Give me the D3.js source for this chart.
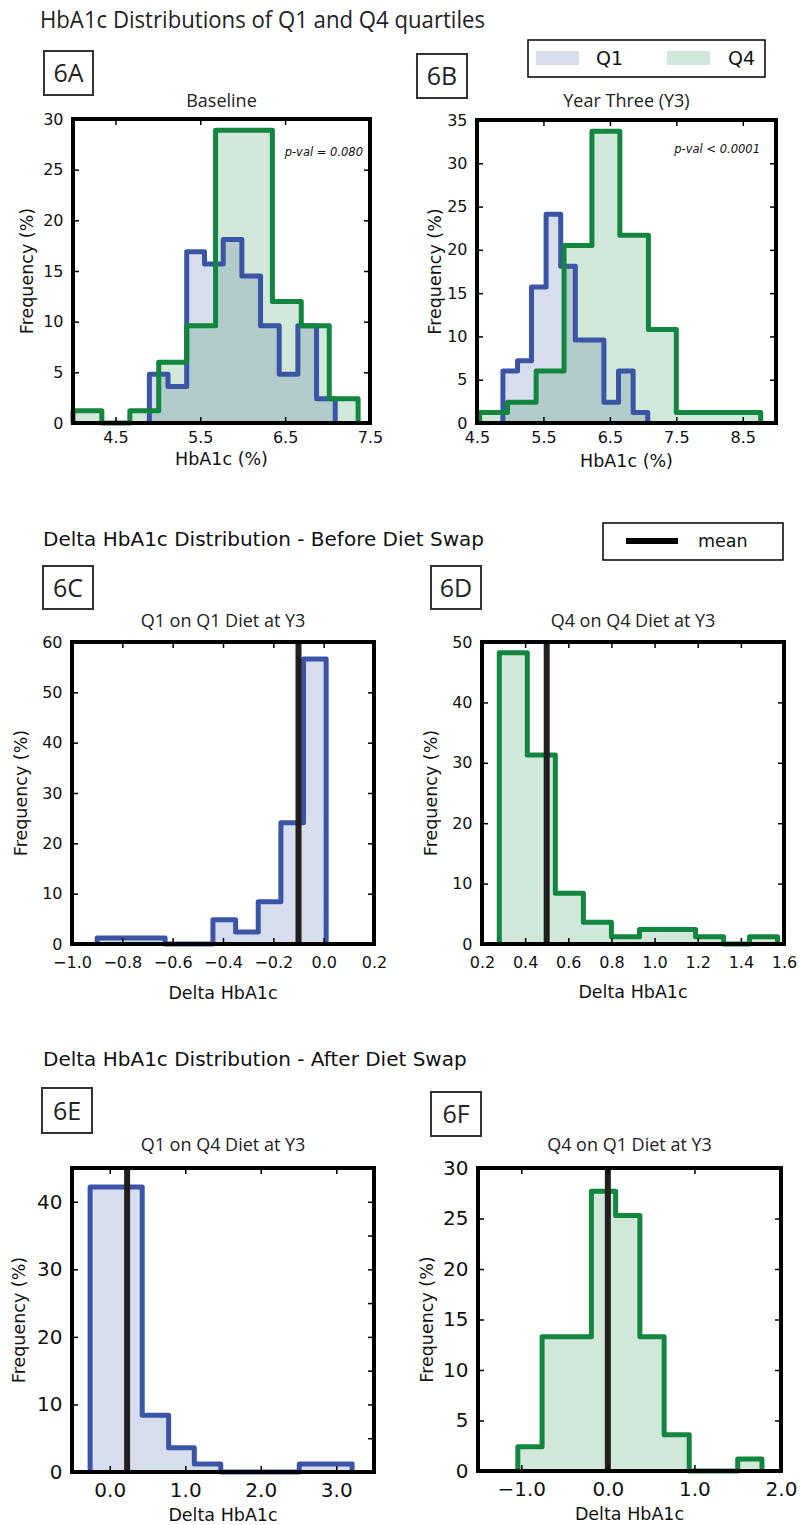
<!DOCTYPE html>
<html>
<head>
<meta charset="utf-8">
<script src="https://cdn.jsdelivr.net/npm/d3@7"></script>
<style>
  body { margin: 0; background: #fff; }
  svg { display: block; }
  .tick text { font-family: "DejaVu Sans", sans-serif; fill: #111; }
  .tick line { stroke: #000; stroke-width: 1.5; }
  .axis-label { font-family: "DejaVu Sans", sans-serif; font-size: 17.5px; fill: #111; }
  .sub-title { font-family: "Open Sans", sans-serif; font-size: 18px; fill: #222; }
  .panel-tag { font-family: "Open Sans", sans-serif; font-size: 25px; fill: #222; }
  .pval { font-family: "DejaVu Sans", sans-serif; font-size: 11.5px; font-style: italic; fill: #111; }
  .legend-text { font-family: "DejaVu Sans", sans-serif; fill: #111; }
</style>
</head>
<body>
<svg id="chart" width="801" height="1525"></svg>
<script>
// 6A - Baseline HbA1c, % of subjects per bin
const baseQ1Edges = [4.90, 5.12, 5.34, 5.55, 5.77, 5.99, 6.21, 6.43, 6.65, 6.87, 7.09];
const baseQ1Freq = [4.8, 3.6, 16.9, 15.7, 18.1, 14.5, 9.6, 4.8, 9.6, 2.4];
const baseQ4Edges = [4.00, 4.34, 4.67, 5.01, 5.34, 5.68, 6.02, 6.35, 6.69, 7.02, 7.36];
const baseQ4Freq = [1.2, 0, 1.2, 6.0, 9.6, 28.9, 28.9, 12.0, 9.6, 2.4];
const baseXTicks = [4.5, 5.5, 6.5, 7.5];
const baseYTicks = [0, 5, 10, 15, 20, 25, 30];

// 6B - Year three HbA1c
const y3Q1Edges = [4.89, 5.11, 5.32, 5.54, 5.76, 5.98, 6.20, 6.41, 6.63, 6.85, 7.07];
const y3Q1Freq = [6.0, 7.2, 15.7, 24.1, 18.1, 9.6, 9.6, 2.4, 6.0, 1.2];
const y3Q4Edges = [4.54, 4.96, 5.39, 5.81, 6.23, 6.65, 7.08, 7.50, 7.92, 8.35, 8.77];
const y3Q4Freq = [1.2, 2.4, 6.0, 20.5, 33.7, 21.7, 10.8, 1.2, 1.2, 1.2];
const y3XTicks = [4.5, 5.5, 6.5, 7.5, 8.5];
const y3YTicks = [0, 5, 10, 15, 20, 25, 30, 35];

// 6C - Q1 on Q1 diet, delta HbA1c
const q1q1Edges = [-0.90, -0.81, -0.72, -0.63, -0.54, -0.44, -0.35, -0.26, -0.17, -0.08, 0.01];
const q1q1Freq = [1.2, 1.2, 1.2, 0, 0, 4.8, 2.4, 8.4, 24.1, 56.6];
const q1q1Mean = -0.10;
const q1q1XTicks = [-1.0, -0.8, -0.6, -0.4, -0.2, 0.0, 0.2];
const q1q1YTicks = [0, 10, 20, 30, 40, 50, 60];

// 6D - Q4 on Q4 diet
const q4q4Edges = [0.28, 0.41, 0.54, 0.67, 0.80, 0.93, 1.06, 1.19, 1.32, 1.44, 1.57];
const q4q4Freq = [48.2, 31.3, 8.4, 3.6, 1.2, 2.4, 2.4, 1.2, 0, 1.2];
const q4q4Mean = 0.50;
const q4q4XTicks = [0.2, 0.4, 0.6, 0.8, 1.0, 1.2, 1.4, 1.6];
const q4q4YTicks = [0, 10, 20, 30, 40, 50];

// 6E - Q1 on Q4 diet
const q1q4Edges = [-0.26, 0.08, 0.43, 0.78, 1.12, 1.47, 1.82, 2.17, 2.51, 2.86, 3.21];
const q1q4Freq = [42.2, 42.2, 8.4, 3.6, 1.2, 0, 0, 0, 1.2, 1.2];
const q1q4Mean = 0.23;
const q1q4XTicks = [0, 1, 2, 3];
const q1q4YTicks = [0, 10, 20, 30, 40];
const q1q4MinorTicks = [0, 5, 10, 15, 20, 25, 30, 35, 40, 45];

// 6F - Q4 on Q1 diet
const q4q1Edges = [-1.04, -0.76, -0.48, -0.19, 0.09, 0.37, 0.65, 0.94, 1.22, 1.50, 1.78];
const q4q1Freq = [2.4, 13.3, 13.3, 27.7, 25.3, 13.3, 3.6, 0, 0, 1.2];
const q4q1Mean = 0.0;
const q4q1XTicks = [-1, 0, 1, 2];
const q4q1YTicks = [0, 5, 10, 15, 20, 25, 30];

const colors = {
  Q1: { line: "#3a55a6", fill: "rgba(58,85,166,0.2)" },
  Q4: { line: "#12853f", fill: "rgba(18,133,63,0.2)" }
};

const svg = d3.select("#chart");

// panel layout (pixel boxes measured on the figure)
// xLabGap = distance from frame bottom to tick label baseline
const panels = [
  { tag: "6A", tagBox: [44, 51, 49, 44], title: "Baseline", titleY: 107,
    box: { x: 73, y: 119, w: 297, h: 304 }, xDomain: [4.0, 7.5], yDomain: [0, 30],
    xTicks: baseXTicks, yTicks: baseYTicks, fs: 16, xLabGap: 20, xLabel: "HbA1c (%)", xLabelY: 465, yLabelX: 33,
    series: [{ edges: baseQ1Edges, freq: baseQ1Freq, c: colors.Q1 }, { edges: baseQ4Edges, freq: baseQ4Freq, c: colors.Q4 }],
    pval: { text: "p-val = 0.080", x: 363, y: 156 } },
  { tag: "6B", tagBox: [417, 54, 50, 44], title: "Year Three (Y3)", titleY: 107,
    box: { x: 477, y: 120, w: 299, h: 303 }, xDomain: [4.5, 9.0], yDomain: [0, 35],
    xTicks: y3XTicks, yTicks: y3YTicks, fs: 16, xLabGap: 20, xLabel: "HbA1c (%)", xLabelY: 467, yLabelX: 441,
    series: [{ edges: y3Q1Edges, freq: y3Q1Freq, c: colors.Q1 }, { edges: y3Q4Edges, freq: y3Q4Freq, c: colors.Q4 }],
    pval: { text: "p-val < 0.0001", x: 760, y: 153 } },
  { tag: "6C", tagBox: [43, 566, 50, 43], title: "Q1 on Q1 Diet at Y3", titleY: 627,
    box: { x: 72, y: 642, w: 302, h: 302 }, xDomain: [-1.0, 0.2], yDomain: [0, 60],
    xTicks: q1q1XTicks, yTicks: q1q1YTicks, fs: 16, xLabGap: 24, xLabel: "Delta HbA1c", xLabelY: 999, yLabelX: 27,
    series: [{ edges: q1q1Edges, freq: q1q1Freq, c: colors.Q1 }], mean: q1q1Mean },
  { tag: "6D", tagBox: [431, 566, 50, 43], title: "Q4 on Q4 Diet at Y3", titleY: 627,
    box: { x: 482, y: 642, w: 302, h: 302 }, xDomain: [0.2, 1.6], yDomain: [0, 50],
    xTicks: q4q4XTicks, yTicks: q4q4YTicks, fs: 16, xLabGap: 24, xLabel: "Delta HbA1c", xLabelY: 998, yLabelX: 437,
    series: [{ edges: q4q4Edges, freq: q4q4Freq, c: colors.Q4 }], mean: q4q4Mean },
  { tag: "6E", tagBox: [42, 1088, 50, 45], title: "Q1 on Q4 Diet at Y3", titleY: 1151,
    box: { x: 72, y: 1168, w: 302, h: 304 }, xDomain: [-0.5, 3.5], yDomain: [0, 45],
    xTicks: q1q4XTicks, yTicks: q1q4YTicks, rightTicks: q1q4MinorTicks, fs: 20, xLabGap: 25, xLabel: "Delta HbA1c", xLabelY: 1521, yLabelX: 25,
    series: [{ edges: q1q4Edges, freq: q1q4Freq, c: colors.Q1 }], mean: q1q4Mean },
  { tag: "6F", tagBox: [431, 1092, 50, 44], title: "Q4 on Q1 Diet at Y3", titleY: 1151,
    box: { x: 478, y: 1168, w: 303, h: 303 }, xDomain: [-1.5, 2.0], yDomain: [0, 30],
    xTicks: q4q1XTicks, yTicks: q4q1YTicks, fs: 20, xLabGap: 25, xLabel: "Delta HbA1c", xLabelY: 1520, yLabelX: 433,
    series: [{ edges: q4q1Edges, freq: q4q1Freq, c: colors.Q4 }], mean: q4q1Mean }
];

// section headings
svg.append("text")
  .attr("x", 40).attr("y", 28)
  .attr("textLength", 445).attr("lengthAdjust", "spacingAndGlyphs")
  .style("font-family", "Open Sans, sans-serif").style("font-size", "23px").style("fill", "#222")
  .text("HbA1c Distributions of Q1 and Q4 quartiles");

svg.append("text")
  .attr("x", 43).attr("y", 546)
  .style("font-family", "DejaVu Sans, sans-serif").style("font-size", "20px").style("fill", "#111")
  .text("Delta HbA1c Distribution - Before Diet Swap");

svg.append("text")
  .attr("x", 43).attr("y", 1066)
  .style("font-family", "DejaVu Sans, sans-serif").style("font-size", "20px").style("fill", "#111")
  .text("Delta HbA1c Distribution - After Diet Swap");

// step outline points for one histogram
function stepPoints(edges, freq) {
  const pts = [[edges[0], 0]];
  freq.forEach((v, i) => {
    pts.push([edges[i], v]);
    pts.push([edges[i + 1], v]);
  });
  pts.push([edges[edges.length - 1], 0]);
  return pts;
}

panels.forEach((p) => {
  const b = p.box;
  const x = d3.scaleLinear().domain(p.xDomain).range([b.x, b.x + b.w]);
  const y = d3.scaleLinear().domain(p.yDomain).range([b.y + b.h, b.y]);

  // panel tag box
  svg.append("rect")
    .attr("x", p.tagBox[0]).attr("y", p.tagBox[1])
    .attr("width", p.tagBox[2]).attr("height", p.tagBox[3])
    .attr("fill", "none").attr("stroke", "#333").attr("stroke-width", 2);
  svg.append("text")
    .attr("class", "panel-tag")
    .attr("x", p.tagBox[0] + p.tagBox[2] / 2)
    .attr("y", p.tagBox[1] + p.tagBox[3] / 2 + 9)
    .attr("text-anchor", "middle")
    .text(p.tag);

  svg.append("text")
    .attr("class", "sub-title")
    .attr("x", b.x + b.w / 2).attr("y", p.titleY)
    .attr("text-anchor", "middle")
    .text(p.title);

  const area = d3.area().x((d) => x(d[0])).y0(y(0)).y1((d) => y(d[1]));
  const line = d3.line().x((d) => x(d[0])).y((d) => y(d[1]));

  // fills first, outlines on top
  p.series.forEach((s) => {
    svg.append("path")
      .datum(stepPoints(s.edges, s.freq))
      .attr("d", area)
      .attr("fill", s.c.fill);
  });
  p.series.forEach((s) => {
    svg.append("path")
      .datum(stepPoints(s.edges, s.freq))
      .attr("d", line)
      .attr("fill", "none")
      .attr("stroke", s.c.line)
      .attr("stroke-width", 5)
      .attr("stroke-linejoin", "round");
  });

  if (p.mean !== undefined) {
    svg.append("line")
      .attr("x1", x(p.mean)).attr("x2", x(p.mean))
      .attr("y1", b.y).attr("y2", b.y + b.h)
      .attr("stroke", "#231f20").attr("stroke-width", 6);
  }

  // axes with inward ticks (d3 puts the label baseline at padding + 0.71em)
  const fmt = d3.format(".1f");
  svg.append("g")
    .attr("transform", `translate(0,${b.y + b.h})`)
    .call(d3.axisBottom(x).tickValues(p.xTicks).tickFormat(fmt).tickSizeInner(-6).tickSizeOuter(0).tickPadding(p.xLabGap - 0.71 * p.fs))
    .call((g) => g.select(".domain").remove())
    .selectAll("text").style("font-size", p.fs + "px");
  svg.append("g")
    .attr("transform", `translate(${b.x},0)`)
    .call(d3.axisLeft(y).tickValues(p.yTicks).tickFormat(d3.format("d")).tickSizeInner(-6).tickSizeOuter(0).tickPadding(9.5))
    .call((g) => g.select(".domain").remove())
    .selectAll("text").style("font-size", p.fs + "px");
  svg.append("g")
    .attr("transform", `translate(0,${b.y})`)
    .call(d3.axisTop(x).tickValues(p.xTicks).tickFormat("").tickSizeInner(-6).tickSizeOuter(0))
    .call((g) => g.select(".domain").remove());
  svg.append("g")
    .attr("transform", `translate(${b.x + b.w},0)`)
    .call(d3.axisRight(y).tickValues(p.rightTicks || p.yTicks).tickFormat("").tickSizeInner(-6).tickSizeOuter(0))
    .call((g) => g.select(".domain").remove());

  // frame
  svg.append("rect")
    .attr("x", b.x).attr("y", b.y).attr("width", b.w).attr("height", b.h)
    .attr("fill", "none").attr("stroke", "#000").attr("stroke-width", 4);

  svg.append("text")
    .attr("class", "axis-label")
    .attr("x", b.x + b.w / 2).attr("y", p.xLabelY)
    .attr("text-anchor", "middle")
    .text(p.xLabel);
  svg.append("text")
    .attr("class", "axis-label")
    .attr("transform", `translate(${p.yLabelX},${b.y + b.h / 2}) rotate(-90)`)
    .attr("text-anchor", "middle")
    .text("Frequency (%)");

  if (p.pval) {
    svg.append("text")
      .attr("class", "pval")
      .attr("x", p.pval.x).attr("y", p.pval.y)
      .attr("text-anchor", "end")
      .text(p.pval.text);
  }
});

// Q1 / Q4 legend
const legQ = svg.append("g");
legQ.append("rect").attr("x", 528).attr("y", 40).attr("width", 237).attr("height", 37)
  .attr("fill", "#fff").attr("stroke", "#000").attr("stroke-width", 1.5);
[["Q1", colors.Q1, 536, 596], ["Q4", colors.Q4, 667, 728]].forEach(([name, c, px, tx]) => {
  legQ.append("rect").attr("x", px).attr("y", 51).attr("width", 43).attr("height", 14).attr("fill", c.fill);
  legQ.append("text").attr("class", "legend-text").attr("x", tx).attr("y", 65)
    .style("font-size", "19px").text(name);
});

// mean legend
const legM = svg.append("g");
legM.append("rect").attr("x", 603).attr("y", 523).attr("width", 180).attr("height", 37)
  .attr("fill", "#fff").attr("stroke", "#000").attr("stroke-width", 1.5);
legM.append("line").attr("x1", 626).attr("x2", 678).attr("y1", 541).attr("y2", 541)
  .attr("stroke", "#000").attr("stroke-width", 6);
legM.append("text").attr("class", "legend-text").attr("x", 698).attr("y", 547)
  .style("font-size", "17.5px").text("mean");
</script>
</body>
</html>
